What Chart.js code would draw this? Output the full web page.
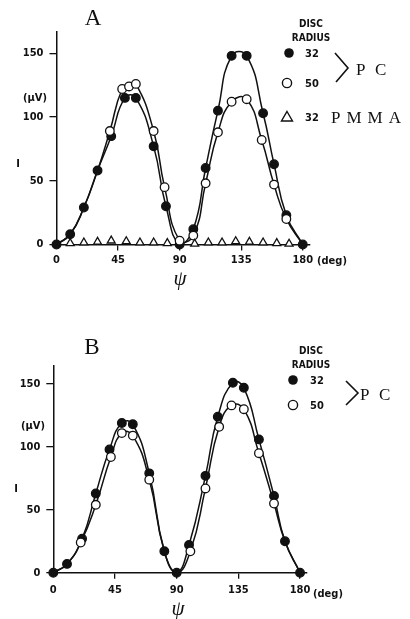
<!DOCTYPE html>
<html><head><meta charset="utf-8">
<script src="https://cdn.jsdelivr.net/npm/chart.js@4"></script>
<style>
html,body{margin:0;padding:0;background:#fff;width:410px;height:619px;overflow:hidden}
#wrap{position:relative;width:410px;height:619px;background:#fff}
canvas{position:absolute;left:0}
.t{position:absolute;white-space:nowrap;color:#111;line-height:1;transform:translate(-50%,-50%)}
.l{transform:translate(0,-50%)}
.mono{font-family:'DejaVu Sans Condensed','DejaVu Sans',sans-serif;font-weight:bold;font-size:11px}
.serif{font-family:'Liberation Serif','DejaVu Serif',serif}
</style></head><body><div id="wrap">
<canvas id="ca" width="410" height="300" style="top:0"></canvas>
<canvas id="cb" width="410" height="289" style="top:330px"></canvas>
<svg id="ov" width="410" height="619" style="position:absolute;left:0;top:0"></svg>
</div>
<script>
// ---- tick labels ----
const xTicks = [0, 45, 90, 135, 180];
const yTicks = [0, 50, 100, 150];

// ---- Panel A (deg, µV) ----
const a32X = [0, 10, 20, 30, 40, 50, 58, 71, 80, 90, 100, 109, 118, 128, 139, 151, 159, 168, 180];
const a32Y = [0, 8, 29, 58, 85, 115, 115, 77, 30, 0, 12, 60, 105, 148, 148, 103, 63, 23, 0];
const a50X = [39, 48, 53, 58, 71, 79, 90, 100, 109, 118, 128, 139, 150, 159, 168];
const a50Y = [89, 122, 124, 126, 89, 45, 3, 7, 48, 88, 112, 114, 82, 47, 20];
const aPmmaX = [10, 20, 30, 40, 51, 61, 71, 81, 101, 111, 121, 131, 141, 151, 161, 170];
const aPmmaY = [1, 1.5, 2, 3, 2.5, 1.5, 1.5, 1, 0.5, 1.5, 1.5, 2.5, 2, 1.5, 1, 0.5];

// ---- Panel B (deg, µV) ----
const b32X = [0, 10, 21, 31, 41, 50, 58, 70, 81, 90, 99, 111, 120, 131, 139, 150, 161, 169, 180];
const b32Y = [0, 7, 27, 63, 98, 119, 118, 79, 17, 0, 22, 77, 124, 151, 147, 106, 61, 25, 0];
const b50X = [20, 31, 42, 50, 58, 70, 100, 111, 121, 130, 139, 150, 161];
const b50Y = [24, 54, 92, 111, 109, 74, 17, 67, 116, 133, 130, 95, 55];

const pts = (xs, ys) => xs.map((x, i) => ({x: x, y: ys[i]}));
const INK = '#111';
const tickFont = {family: "'DejaVu Sans Condensed','DejaVu Sans',sans-serif", size: 11, weight: 'bold'};

// curves (the open-circle curve shares the filled one where they coincide)
const aLine32 = pts(a32X, a32Y);
const aLine50 = pts(a32X.slice(0, 4), a32Y.slice(0, 4)).concat(pts(a50X, a50Y), pts(a32X.slice(-1), a32Y.slice(-1)));
const bLine32 = pts(b32X, b32Y);
const bLine50 = pts(b32X.slice(0, 2), b32Y.slice(0, 2))
  .concat(pts(b50X.slice(0, 6), b50Y.slice(0, 6)), pts(b32X.slice(8, 10), b32Y.slice(8, 10)),
          pts(b50X.slice(6), b50Y.slice(6)), pts(b32X.slice(-2), b32Y.slice(-2)));

function lineDs(data) {
  return {data: data, showLine: true, borderColor: INK, borderWidth: 1.5, tension: 0.5,
          pointRadius: 0, fill: false, clip: false};
}
function markDs(data, style, fillColor) {
  return {data: data, showLine: false, pointStyle: style, pointRadius: style === 'triangle' ? 4.6 : 4.3,
          pointBackgroundColor: fillColor, pointBorderColor: INK, pointBorderWidth: 1.3, clip: false};
}

function makeChart(id, g, datasets) {
  return new Chart(document.getElementById(id), {
    type: 'scatter',
    data: {datasets: datasets},
    options: {
      responsive: false, animation: false, devicePixelRatio: 1,
      layout: {padding: {left: 0, top: g.top, right: 410 - g.right, bottom: 0}},
      plugins: {legend: {display: false}, tooltip: {enabled: false}},
      scales: {
        x: {type: 'linear', min: 0, max: 185,
            afterBuildTicks: s => { s.ticks = xTicks.map(v => ({value: v})); },
            afterFit: s => { s.height = g.xh; },
            border: {color: INK, width: 1.5},
            grid: {drawOnChartArea: false, drawTicks: true, tickLength: 6, lineWidth: 1.3,
                   color: c => (c.tick && c.tick.value === 0) ? 'rgba(0,0,0,0)' : INK},
            ticks: {color: INK, font: tickFont, padding: g.xpad, maxRotation: 0, autoSkip: false}},
        y: {type: 'linear', min: 0, max: g.ymax,
            afterBuildTicks: s => { s.ticks = yTicks.map(v => ({value: v})); },
            afterFit: s => { s.width = g.yw; },
            border: {color: INK, width: 1.5},
            grid: {drawOnChartArea: false, drawTicks: true, tickLength: 7, lineWidth: 1.3, color: INK},
            ticks: {color: INK, font: tickFont, padding: 6, autoSkip: false}}
      }
    }
  });
}

makeChart('ca', {top: 32, right: 309.6, xh: 300 - 244.5, yw: 56.5, ymax: 166.7, xpad: 3}, [
  markDs(pts(aPmmaX, aPmmaY), 'triangle', '#fff'),
  markDs(pts(a50X, a50Y), 'circle', '#fff'),
  markDs(pts(a32X, a32Y), 'circle', INK),
  lineDs(aLine50),
  lineDs(aLine32)
]);
makeChart('cb', {top: 35.3, right: 306.9, xh: 289 - 242.7, yw: 53.3, ymax: 164.9, xpad: 5}, [
  markDs(pts(b50X, b50Y), 'circle', '#fff'),
  markDs(pts(b32X, b32Y), 'circle', INK),
  lineDs(bLine50),
  lineDs(bLine32)
]);

// ---- text overlays ----
const wrap = document.getElementById('wrap');
function txt(s, x, y, cls, css, left) {
  const d = document.createElement('div');
  d.className = 't ' + cls + (left ? ' l' : '');
  d.textContent = s;
  d.style.left = x + 'px'; d.style.top = y + 'px';
  if (css) d.style.cssText += css;
  wrap.appendChild(d);
}
// panel A
txt('A', 93, 17, 'serif', 'font-size:23px');
txt('DISC', 311, 24, 'mono', 'font-size:10px');
txt('RADIUS', 311, 38, 'mono', 'font-size:10px');
txt('32', 312, 53, 'mono', 'font-size:11px');
txt('50', 312, 83, 'mono', 'font-size:11px');
txt('32', 312, 117, 'mono', 'font-size:11px');
txt('P C', 356, 69, 'serif', 'font-size:17px;letter-spacing:3px', true);
txt('PMMA', 331, 117, 'serif', 'font-size:17px;letter-spacing:6px', true);
txt('(\u03bcV)', 35, 97, 'mono', '');
txt('I', 18, 163, 'mono', '');
txt('(deg)', 317, 260, 'mono', '', true);
txt('\u03c8', 180, 278, 'serif', 'font-size:21px;font-style:italic');
// panel B
txt('B', 92, 346, 'serif', 'font-size:23px');
txt('DISC', 311, 351, 'mono', 'font-size:10px');
txt('RADIUS', 311, 365, 'mono', 'font-size:10px');
txt('32', 317, 380, 'mono', 'font-size:11px');
txt('50', 317, 405, 'mono', 'font-size:11px');
txt('P C', 360, 394, 'serif', 'font-size:17px;letter-spacing:3px', true);
txt('(\u03bcV)', 33, 425, 'mono', '');
txt('I', 16, 488, 'mono', '');
txt('(deg)', 313, 593, 'mono', '', true);
txt('\u03c8', 178, 608, 'serif', 'font-size:21px;font-style:italic');

// ---- legend symbols & brackets ----
const ov = document.getElementById('ov');
const NS = 'http://www.w3.org/2000/svg';
function el(name, attrs) {
  const e = document.createElementNS(NS, name);
  for (const k in attrs) e.setAttribute(k, attrs[k]);
  ov.appendChild(e);
}
el('circle', {cx: 289, cy: 53, r: 4.8, fill: INK});
el('circle', {cx: 287, cy: 83, r: 4.6, fill: '#fff', stroke: INK, 'stroke-width': 1.4});
el('polygon', {points: '287,111.5 292.5,121 281.5,121', fill: '#fff', stroke: INK, 'stroke-width': 1.4});
el('polyline', {points: '335,53 348,68 336,82', fill: 'none', stroke: INK, 'stroke-width': 1.6});
el('circle', {cx: 293, cy: 380, r: 4.8, fill: INK});
el('circle', {cx: 293, cy: 405, r: 4.6, fill: '#fff', stroke: INK, 'stroke-width': 1.4});
el('polyline', {points: '346,381 358,393 346,405', fill: 'none', stroke: INK, 'stroke-width': 1.6});
</script>
</body></html>
